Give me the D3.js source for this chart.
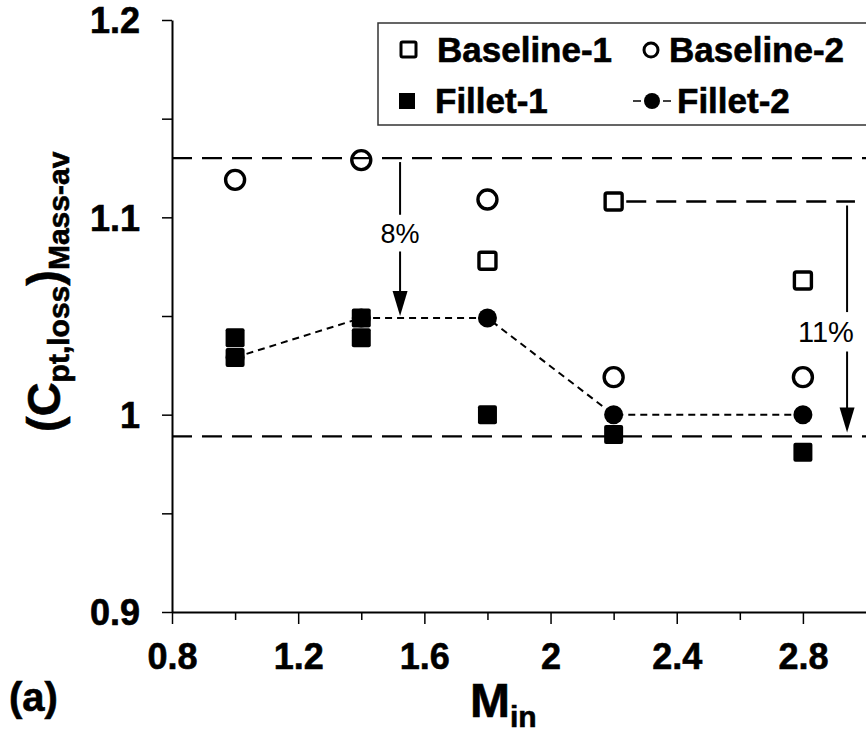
<!DOCTYPE html>
<html>
<head>
<meta charset="utf-8">
<script src="https://cdn.jsdelivr.net/npm/d3@7"></script>
<style>
  html, body { margin: 0; padding: 0; background: #fff; }
  svg { display: block; font-family: 'Liberation Sans', Arial, sans-serif; }
</style>
</head>
<body>
<svg id="chart" width="866" height="738"></svg>
<script>
// ---------- data ----------
const baseline1X = [1.8, 2.2, 2.8];
const baseline1Y = [1.078, 1.108, 1.068];
const baseline2X = [1.0, 1.4, 1.8, 2.2, 2.8];
const baseline2Y = [1.119, 1.129, 1.109, 1.019, 1.019];
const fillet1X = [1.0, 1.0, 1.4, 1.4, 1.8, 2.2, 2.8];
const fillet1Y = [1.039, 1.029, 1.049, 1.039, 1.000, 0.990, 0.981];
const fillet2X = [1.0, 1.4, 1.8, 2.2, 2.8];
const fillet2Y = [1.029, 1.049, 1.049, 1.000, 1.000];
const xMajorTicks = [0.8, 1.2, 1.6, 2.0, 2.4, 2.8];
const xMinorTicks = [1.0, 1.4, 1.8, 2.2, 2.6];
const yMajorTicks = [0.9, 1.0, 1.1, 1.2];
const yMinorTicks = [0.95, 1.05, 1.15];
const refLevels = [1.13, 0.989];            // horizontal long-dash reference lines
const refB1 = {x0: 2.24, x1: 2.965, y: 1.108}; // dash line from Baseline-1 at 2.2
const arrow8 = {x: 1.523, y0: 1.128, y1: 1.05, label: "8%", ly: 1.092};
const arrow11 = {x: 2.94, y0: 1.106, y1: 0.991, label: "11%", ly: 1.042, lx: 2.873};
const legendItems = ["Baseline-1", "Baseline-2", "Fillet-1", "Fillet-2"];

// ---------- layout ----------
const svg = d3.select("#chart");
const x = d3.scaleLinear().domain([0.8, 3.0]).range([172, 866]);
const y = d3.scaleLinear().domain([0.9, 1.2]).range([612, 20]);
const FONT = "'Liberation Sans', Arial, sans-serif";
const boldStroke = t => t.attr("stroke", "#000").attr("stroke-width", 0.6);

// ---------- axes ----------
const fmt = d => (Math.abs(d - Math.round(d)) < 1e-9 ? String(Math.round(d)) : d3.format(".1f")(d));

const yAxis = svg.append("g").attr("transform", "translate(172,0)")
  .call(d3.axisLeft(y).tickValues(yMajorTicks).tickFormat(fmt).tickSize(10).tickSizeOuter(0).tickPadding(22));
svg.append("g").attr("transform", "translate(172,0)")
  .call(d3.axisLeft(y).tickValues(yMinorTicks).tickFormat("").tickSize(10).tickSizeOuter(0))
  .select(".domain").remove();

const xAxis = svg.append("g").attr("transform", "translate(0,612)")
  .call(d3.axisBottom(x).tickValues(xMajorTicks).tickFormat(fmt).tickSize(12).tickSizeOuter(0).tickPadding(19));
svg.append("g").attr("transform", "translate(0,612)")
  .call(d3.axisBottom(x).tickValues(xMinorTicks).tickFormat("").tickSize(8).tickSizeOuter(0))
  .select(".domain").remove();

svg.selectAll(".domain").attr("stroke", "#000").attr("stroke-width", 2);
svg.selectAll(".tick line").attr("stroke", "#000").attr("stroke-width", 1.5);
svg.selectAll(".tick text").attr("font-family", FONT).attr("font-size", 36)
  .attr("font-weight", "bold").attr("fill", "#000").call(boldStroke);
yAxis.selectAll(".tick text").attr("dy", "0.36em");

// ---------- axis titles ----------
const yt = svg.append("text")
  .attr("transform", "translate(60,432) rotate(-90)")
  .attr("font-family", FONT).attr("font-weight", "bold").attr("fill", "#000").call(boldStroke);
yt.append("tspan").attr("font-size", 47).text("(C");
yt.append("tspan").attr("font-size", 30).attr("dy", 9).text("pt,loss");
yt.append("tspan").attr("font-size", 47).attr("dy", -9).text(")");
yt.append("tspan").attr("font-size", 30).attr("dy", 9).text("Mass-av");

const xt = svg.append("text").attr("x", 470).attr("y", 717)
  .attr("font-family", FONT).attr("font-weight", "bold").attr("fill", "#000").call(boldStroke);
xt.append("tspan").attr("font-size", 48).text("M");
xt.append("tspan").attr("font-size", 30).attr("dy", 10).text("in");

svg.append("text").attr("x", 9).attr("y", 711).attr("font-family", FONT)
  .attr("font-weight", "bold").attr("font-size", 40).attr("fill", "#000").call(boldStroke).text("(a)");

// ---------- reference dashed lines ----------
svg.append("g").selectAll("line").data(refLevels).join("line")
  .attr("x1", x(0.8)).attr("x2", x(3.0))
  .attr("y1", d => y(d)).attr("y2", d => y(d))
  .attr("stroke", "#000").attr("stroke-width", 2.4).attr("stroke-dasharray", "20,10");
svg.append("line")
  .attr("x1", x(refB1.x0)).attr("x2", x(refB1.x1))
  .attr("y1", y(refB1.y)).attr("y2", y(refB1.y))
  .attr("stroke", "#000").attr("stroke-width", 2.4).attr("stroke-dasharray", "20,10");

// ---------- arrows ----------
function drawArrow(a, fontSize) {
  const g = svg.append("g");
  const ax = x(a.x), ya = y(a.y0), yb = y(a.y1), ly = y(a.ly);
  const gap = fontSize * 0.68;
  const headLen = 25, headW = 7.5;
  g.append("line").attr("x1", ax).attr("x2", ax).attr("y1", ya).attr("y2", ly - gap)
    .attr("stroke", "#000").attr("stroke-width", 2);
  g.append("line").attr("x1", ax).attr("x2", ax).attr("y1", ly + gap).attr("y2", yb - headLen + 2)
    .attr("stroke", "#000").attr("stroke-width", 2);
  g.append("path")
    .attr("d", `M${ax - headW},${yb - headLen} L${ax + headW},${yb - headLen} L${ax},${yb} Z`)
    .attr("fill", "#000");
  g.append("text").attr("x", a.lx !== undefined ? x(a.lx) : ax).attr("y", ly)
    .attr("dy", "0.36em").attr("text-anchor", "middle")
    .attr("font-family", FONT).attr("font-size", fontSize).attr("fill", "#000").text(a.label);
}
drawArrow(arrow8, 27);
drawArrow(arrow11, 29);

// ---------- series ----------
const f2 = fillet2X.map((d, i) => [d, fillet2Y[i]]);
svg.append("path").datum(f2)
  .attr("d", d3.line().x(d => x(d[0])).y(d => y(d[1])))
  .attr("fill", "none").attr("stroke", "#000").attr("stroke-width", 2).attr("stroke-dasharray", "7,5");
svg.append("g").selectAll("circle").data(f2).join("circle")
  .attr("cx", d => x(d[0])).attr("cy", d => y(d[1])).attr("r", 9.5).attr("fill", "#000");

const f1 = fillet1X.map((d, i) => [d, fillet1Y[i]]);
svg.append("g").selectAll("rect").data(f1).join("rect")
  .attr("x", d => x(d[0]) - 9.5).attr("y", d => y(d[1]) - 9.5)
  .attr("width", 19).attr("height", 19).attr("rx", 2).attr("fill", "#000");

const b1 = baseline1X.map((d, i) => [d, baseline1Y[i]]);
svg.append("g").selectAll("rect").data(b1).join("rect")
  .attr("x", d => x(d[0]) - 8.5).attr("y", d => y(d[1]) - 8.5)
  .attr("width", 17).attr("height", 17).attr("rx", 2)
  .attr("fill", "none").attr("stroke", "#000").attr("stroke-width", 3.4);

const b2 = baseline2X.map((d, i) => [d, baseline2Y[i]]);
svg.append("g").selectAll("circle").data(b2).join("circle")
  .attr("cx", d => x(d[0])).attr("cy", d => y(d[1])).attr("r", 9.5)
  .attr("fill", "none").attr("stroke", "#000").attr("stroke-width", 3.4);

// ---------- legend ----------
const lg = svg.append("g");
lg.append("rect").attr("x", 378).attr("y", 23).attr("width", 500).attr("height", 102)
  .attr("fill", "none").attr("stroke", "#333").attr("stroke-width", 1.5);
// row 1
lg.append("rect").attr("x", 401).attr("y", 42).attr("width", 15).attr("height", 15).attr("rx", 1.5)
  .attr("fill", "none").attr("stroke", "#000").attr("stroke-width", 3);
lg.append("circle").attr("cx", 651).attr("cy", 50).attr("r", 7)
  .attr("fill", "none").attr("stroke", "#000").attr("stroke-width", 3);
// row 2
lg.append("rect").attr("x", 399).attr("y", 93).attr("width", 16).attr("height", 16).attr("fill", "#000");
lg.append("line").attr("x1", 633).attr("x2", 641).attr("y1", 101).attr("y2", 101).attr("stroke", "#000").attr("stroke-width", 1.5);
lg.append("line").attr("x1", 663).attr("x2", 671).attr("y1", 101).attr("y2", 101).attr("stroke", "#000").attr("stroke-width", 1.5);
lg.append("circle").attr("cx", 652).attr("cy", 101).attr("r", 8).attr("fill", "#000");
const legendPos = [[437, 62], [669, 62], [435, 113], [677, 113]];
lg.selectAll("text.leg").data(legendItems).join("text").attr("class", "leg")
  .attr("x", (d, i) => legendPos[i][0]).attr("y", (d, i) => legendPos[i][1])
  .attr("font-family", FONT).attr("font-weight", "bold").attr("font-size", 35).attr("fill", "#000")
  .call(boldStroke)
  .text(d => d);
</script>
</body>
</html>
